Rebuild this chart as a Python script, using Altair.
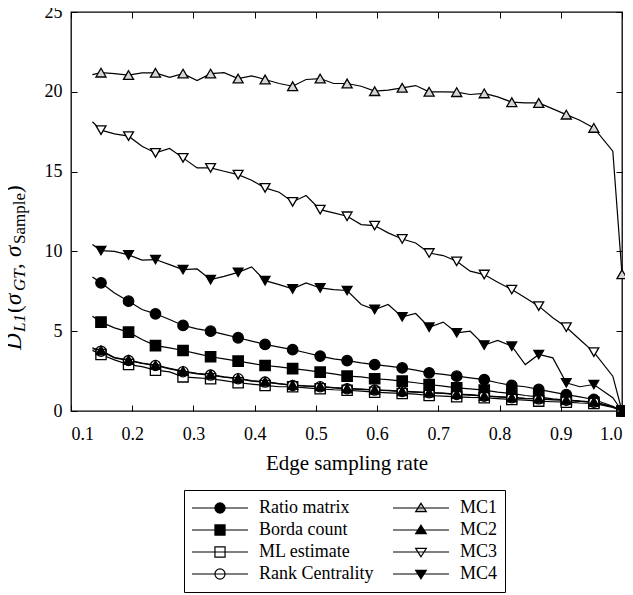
import altair as alt
import pandas as pd

sampling_rate = [0.135, 0.149, 0.171, 0.194, 0.216, 0.238, 0.261, 0.283, 0.306, 0.328,
                 0.350, 0.373, 0.395, 0.417, 0.440, 0.462, 0.484, 0.507, 0.529, 0.551,
                 0.574, 0.596, 0.618, 0.641, 0.663, 0.685, 0.708, 0.730, 0.752, 0.775,
                 0.797, 0.820, 0.842, 0.864, 0.887, 0.909, 0.931, 0.954, 0.985, 1.0]

ratio_matrix = [8.4, 8.03, 7.4, 6.88, 6.36, 6.09, 5.73, 5.36, 5.15, 5.0,
                4.8, 4.59, 4.38, 4.17, 4.0, 3.85, 3.65, 3.44, 3.27, 3.16,
                3.02, 2.91, 2.81, 2.7, 2.56, 2.39, 2.29, 2.18, 2.08, 1.97,
                1.77, 1.6, 1.52, 1.35, 1.18, 1.03, 0.89, 0.72, 0.3, 0.0]
borda_count = [5.94, 5.57, 5.21, 4.94, 4.48, 4.1, 3.96, 3.79, 3.6, 3.4,
               3.27, 3.12, 2.98, 2.85, 2.77, 2.66, 2.56, 2.43, 2.33, 2.18,
               2.14, 2.02, 1.97, 1.87, 1.77, 1.66, 1.56, 1.45, 1.39, 1.31,
               1.18, 1.1, 0.97, 0.89, 0.76, 0.68, 0.62, 0.55, 0.25, 0.0]
ml_estimate = [3.8, 3.54, 3.2, 2.91, 2.78, 2.56, 2.45, 2.14, 2.08, 2.02,
               1.9, 1.77, 1.68, 1.6, 1.52, 1.52, 1.45, 1.39, 1.33, 1.3,
               1.25, 1.18, 1.14, 1.1, 1.06, 0.97, 0.93, 0.89, 0.85, 0.83,
               0.78, 0.72, 0.68, 0.62, 0.58, 0.55, 0.5, 0.47, 0.22, 0.0]
rank_centrality = [3.96, 3.75, 3.33, 3.16, 2.98, 2.85, 2.64, 2.46, 2.33, 2.25,
                   2.12, 2.02, 1.87, 1.81, 1.7, 1.6, 1.56, 1.52, 1.45, 1.39,
                   1.35, 1.31, 1.27, 1.22, 1.18, 1.14, 1.1, 1.03, 1.0, 0.93,
                   0.88, 0.83, 0.78, 0.76, 0.7, 0.68, 0.6, 0.55, 0.25, 0.0]
mc1 = [21.08, 21.2, 21.14, 21.05, 21.19, 21.19, 20.9, 21.14, 20.7, 21.14,
       21.2, 20.83, 21.0, 20.77, 20.52, 20.35, 20.77, 20.83, 20.52, 20.52,
       20.35, 20.04, 20.1, 20.25, 20.39, 20.0, 20.0, 19.98, 19.83, 19.9,
       19.68, 19.35, 19.3, 19.3, 18.93, 18.57, 18.22, 17.74, 16.28, 8.57]
mc2 = [3.9, 3.8, 3.35, 3.2, 3.0, 2.88, 2.68, 2.5, 2.36, 2.28,
       2.14, 2.05, 1.9, 1.84, 1.72, 1.63, 1.58, 1.55, 1.47, 1.42,
       1.37, 1.33, 1.29, 1.24, 1.2, 1.16, 1.12, 1.06, 1.02, 0.95,
       0.9, 0.85, 0.8, 0.78, 0.72, 0.7, 0.62, 0.57, 0.26, 0.0]
mc3 = [18.12, 17.6, 17.36, 17.22, 16.59, 16.17, 16.45, 15.86, 15.23, 15.23,
       15.02, 14.81, 14.46, 13.98, 13.71, 13.1, 13.5, 12.62, 12.41, 12.2,
       11.68, 11.62, 11.16, 10.78, 10.53, 9.9, 9.74, 9.38, 8.76, 8.55,
       8.07, 7.61, 7.09, 6.57, 5.84, 5.25, 4.48, 3.69, 2.18, 0.0]
mc4 = [10.43, 10.05, 10.0, 9.78, 9.45, 9.49, 9.17, 8.86, 8.9, 8.23,
       8.44, 8.69, 9.03, 8.17, 7.92, 7.65, 8.03, 7.71, 7.61, 7.55,
       6.67, 6.36, 6.67, 5.9, 6.11, 5.25, 5.57, 4.9, 5.0, 4.13,
       4.42, 4.06, 2.91, 3.54, 3.33, 1.77, 1.52, 1.66, 0.83, 0.0]

series_names = ["Ratio matrix", "Borda count", "ML estimate", "Rank Centrality",
                "MC1", "MC2", "MC3", "MC4"]
x_tick_values = [0.1, 0.2, 0.3, 0.4, 0.5, 0.6, 0.7, 0.8, 0.9, 1.0]
y_tick_values = [0, 5, 10, 15, 20, 25]
x_title = "Edge sampling rate"
y_title_parts = ["D", "L1", "(", "σ", "GT", ", ", "σ", "Sample", ")"]

series_values = [ratio_matrix, borda_count, ml_estimate, rank_centrality, mc1, mc2, mc3, mc4]
rows = []
for name, vals in zip(series_names, series_values):
    n = len(vals)
    for i, (x, y) in enumerate(zip(sampling_rate, vals)):
        rows.append({"series": name, "rate": x, "dist": y,
                     "marker": (i % 2 == 1) or (i == n - 1)})
df = pd.DataFrame(rows)

point_order = ["Ratio matrix", "Borda count", "ML estimate", "MC2", "Rank Centrality",
               "MC1", "MC3", "MC4"]
pts = df[df["marker"]].copy()
pts["ord"] = pts["series"].map({s: i for i, s in enumerate(point_order)})
pts = pts.sort_values(["ord", "rate"], kind="stable").reset_index(drop=True)

FONT = "Liberation Serif, Times New Roman, Times, serif"
xs = alt.Scale(domain=[0.1, 1.0], nice=False, zero=False)
ys = alt.Scale(domain=[0, 25], nice=False)

tick_axis = dict(offset=-6, tickSize=6, domain=False, grid=False, tickColor="black", tickWidth=1)

lines = alt.Chart(df).mark_line(color="black", strokeWidth=1.2).encode(
    x=alt.X("rate:Q", scale=xs, axis=alt.Axis(
        orient="bottom", values=x_tick_values, format=".1f", labelFont=FONT, labelFontSize=18,
        labelColor="black", labelPadding=14, title=x_title, titleFont=FONT, titleFontSize=21,
        titleFontWeight="normal", titleColor="black", titlePadding=9, **tick_axis)),
    y=alt.Y("dist:Q", scale=ys, axis=alt.Axis(
        orient="left", values=y_tick_values, labelFont=FONT, labelFontSize=18, labelColor="black",
        labelPadding=9, title=None, **tick_axis)),
    detail="series:N",
)

plot_shapes = ["circle", "square", "square", "circle", "triangle-up", "triangle-up",
               "triangle-down", "triangle-down"]
plot_fills = ["black", "black", "white", "transparent", "#d6d6d6", "black", "white", "black"]
plot_sizes = [110, 95, 90, 120, 120, 45, 120, 115]

points = alt.Chart(pts).mark_point(filled=True, stroke="black", strokeWidth=1.3, opacity=1).encode(
    x=alt.X("rate:Q", scale=xs, axis=alt.Axis(orient="top", values=x_tick_values, labels=False,
                                               title=None, **tick_axis)),
    y=alt.Y("dist:Q", scale=ys, axis=alt.Axis(orient="right", values=y_tick_values, labels=False,
                                               title=None, **tick_axis)),
    shape=alt.Shape("series:N", scale=alt.Scale(domain=series_names, range=plot_shapes), legend=None),
    fill=alt.Fill("series:N", scale=alt.Scale(domain=series_names, range=plot_fills), legend=None),
    size=alt.Size("series:O", scale=alt.Scale(domain=series_names, range=plot_sizes), legend=None),
    order=alt.Order("ord:Q"),
)

path_circle = "M-1,0H1M-0.18,0A0.18,0.18,0,1,1,0.18,0A0.18,0.18,0,1,1,-0.18,0Z"
path_square = "M-1,0H1M-0.18,-0.18H0.18V0.18H-0.18Z"
path_up = "M-1,0H1M0,-0.17L0.19,0.13L-0.19,0.13Z"
path_down = "M-1,0H1M0,0.17L0.19,-0.13L-0.19,-0.13Z"
legend_paths = [path_circle, path_square, path_square, path_circle,
                path_up, path_up, path_down, path_down]
legend_fills = ["black", "black", "white", "white", "#bdbdbd", "black", "white", "black"]
legend_strokes = ["black"] * 8

leg = alt.Legend(title=None, orient="none", legendX=113, legendY=478, columns=2,
                 columnPadding=18, rowPadding=0, padding=7, strokeColor="black",
                 fillColor="white", labelFont=FONT, labelFontSize=18, labelColor="black",
                 labelOffset=10, symbolSize=3136, symbolStrokeWidth=1.2,
                 symbolStrokeColor="black", symbolOpacity=1, clipHeight=22, labelLimit=300)

legend_layer = alt.Chart(df).transform_filter("false").mark_point(
    filled=True, strokeWidth=1.2, opacity=1).encode(
    shape=alt.Shape("series:N", scale=alt.Scale(domain=series_names, range=legend_paths), legend=leg),
    fill=alt.Fill("series:N", scale=alt.Scale(domain=series_names, range=legend_fills), legend=leg),
    stroke=alt.Stroke("series:N", scale=alt.Scale(domain=series_names, range=legend_strokes), legend=leg),
)

# y-axis title pieces: (font size, italic, subscript, start position along axis)
title_style = [(23, True, False, 338), (17, True, True, 320), (23, False, False, 301),
               (23, True, False, 293), (17, True, True, 279), (23, False, False, 257),
               (23, True, False, 245), (17, False, True, 232), (23, False, False, 181)]
texts = []
for part, (fs, ital, sub, ypos) in zip(y_title_parts, title_style):
    texts.append(
        alt.Chart(pd.DataFrame({"t": [part]})).mark_text(
            font=FONT, fontSize=fs, fontStyle="italic" if ital else "normal",
            angle=270, align="left", baseline="alphabetic", color="black").encode(
            text="t:N", x=alt.value(-46.5 if sub else -50), y=alt.value(ypos))
    )

chart = alt.layer(lines, points, legend_layer, *texts).resolve_scale(
    shape="independent", fill="independent", size="independent", stroke="independent"
).resolve_axis(x="independent", y="independent").properties(
    width=551, height=399, autosize=alt.AutoSizeParams(type="none"),
    padding={"left": 63, "top": 4, "right": 3, "bottom": 182},
).configure(font=FONT).configure_view(stroke="black", strokeWidth=1.3).configure_axis(
    labelFont=FONT, titleFont=FONT).configure_legend(labelFont=FONT)

chart.save("out.html", embed_options={"renderer": "svg", "actions": False})
